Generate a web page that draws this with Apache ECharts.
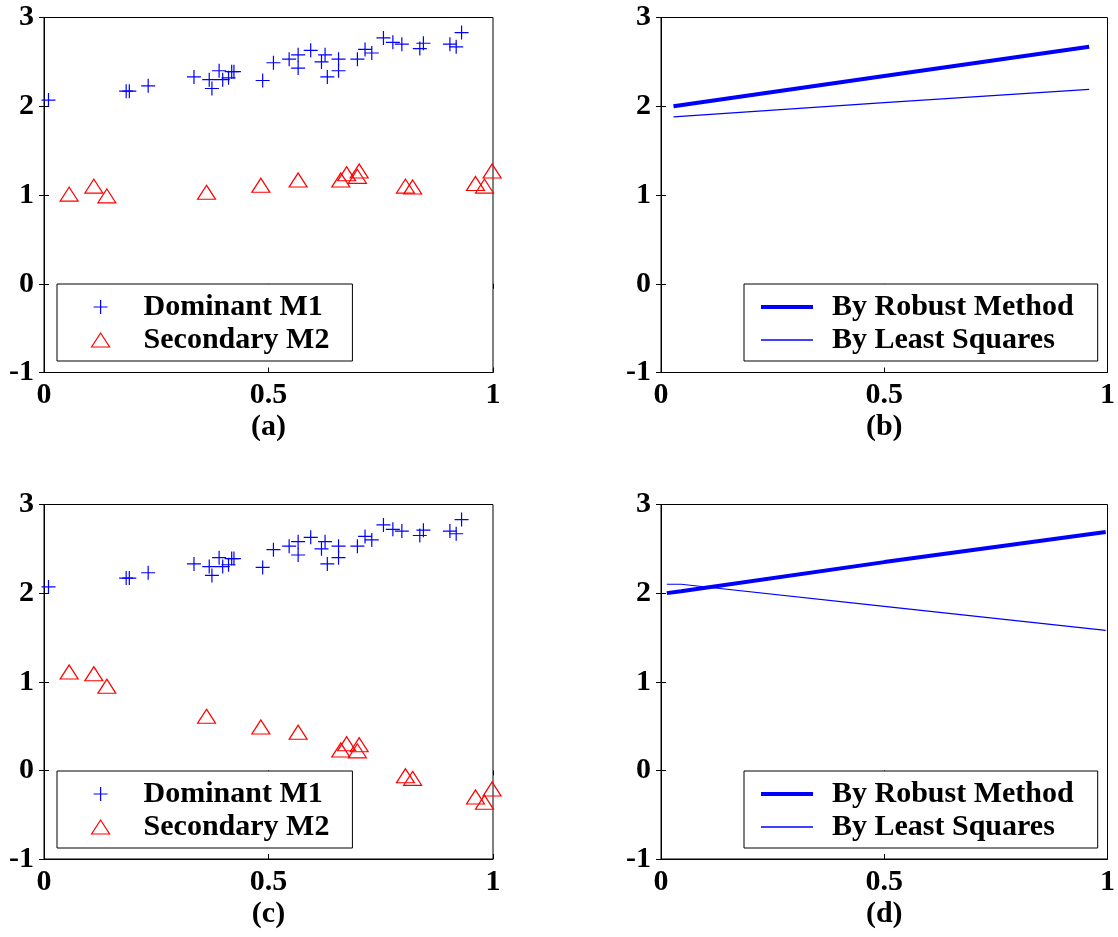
<!DOCTYPE html>
<html>
<head>
<meta charset="utf-8">
<script src="https://cdn.jsdelivr.net/npm/echarts@6/dist/echarts.min.js"></script>
<style>
  html, body { margin: 0; padding: 0; background: #fff; }
  #chart { width: 1118px; height: 937px; }
</style>
</head>
<body>
<div id="chart"></div>
<script>
// dominant component M1 (same points in (a) and (c))
const m1X = [0.010, 0.183, 0.190, 0.232, 0.334, 0.368, 0.374, 0.390, 0.398, 0.411, 0.418, 0.423,
  0.487, 0.511, 0.546, 0.566, 0.566, 0.594, 0.618, 0.626, 0.631, 0.656, 0.656, 0.698, 0.715,
  0.730, 0.756, 0.777, 0.797, 0.837, 0.845, 0.904, 0.918, 0.930]
const m1Y = [2.07, 2.17, 2.17, 2.23, 2.33, 2.30, 2.20, 2.40, 2.30, 2.32, 2.39, 2.39,
  2.29, 2.49, 2.53, 2.58, 2.43, 2.63, 2.50, 2.58, 2.33, 2.53, 2.40, 2.53, 2.64,
  2.60, 2.77, 2.72, 2.70, 2.65, 2.71, 2.70, 2.67, 2.83]

// secondary component M2
const m2X = [0.056, 0.111, 0.140, 0.362, 0.483, 0.566, 0.661, 0.674, 0.698, 0.702, 0.805, 0.821, 0.961, 0.981, 0.998]
const m2YA = [1.01, 1.10, 0.99, 1.03, 1.11, 1.17, 1.17, 1.24, 1.21, 1.27, 1.10, 1.09, 1.13, 1.10, 1.27]
const m2YC = [1.11, 1.09, 0.95, 0.61, 0.49, 0.43, 0.23, 0.30, 0.22, 0.29, -0.06, -0.09, -0.30, -0.36, -0.21]

// fitted lines
const fitXB = [0.028, 0.5, 0.959]
const robustB = [2.00, 2.34, 2.67]
const lsqB = [1.88, 2.04, 2.19]
const fitXD = [0.013, 0.045, 0.5, 0.996]
const robustD = [2.00, 2.02, 2.35, 2.69]
const lsqD = [2.10, 2.10, 1.85, 1.58]

const captions = ['(a)', '(b)', '(c)', '(d)']
const xTicks = { min: 0, max: 1, interval: 0.5 }
const yTicks = { min: -1, max: 3, interval: 1 }

const FONT = "'Liberation Serif', 'Times New Roman', serif"
const txt = { fontFamily: FONT, fontWeight: 'bold', fontSize: 30, color: '#000' }
const PLUS = 'path://M0,7H14M7,0V14'
// legend samples for the two fitted lines (thick / thin bar)
const THICK_ICON = 'path://M0,0H52V4H0Z'
const THIN_ICON = 'path://M0,0H52V1.3H0Z'

function pairs(xs, ys) {
  return xs.map((x, i) => [x, ys[i]])
}

var chart = echarts.init(document.getElementById('chart'))

const grids = [
  { left: 44, top: 17.5, width: 449, height: 355 },
  { left: 661, top: 17.5, width: 449, height: 355 },
  { left: 44, top: 504.5, width: 449, height: 354.5 },
  { left: 661, top: 504.5, width: 449, height: 354.5 }
].map(g => Object.assign({ show: true, borderColor: '#000', borderWidth: 1, backgroundColor: '#fff' }, g))

var xAxis = []
var yAxis = []
for (let i = 0; i < 4; i++) {
  xAxis.push({
    gridIndex: i, type: 'value', ...xTicks,
    name: captions[i], nameLocation: 'middle', nameGap: 40, nameTextStyle: txt,
    axisLine: { onZero: false, lineStyle: { color: '#000', width: 1 } },
    axisTick: { inside: true, length: 5, lineStyle: { color: '#000' } },
    axisLabel: Object.assign({ margin: 8 }, txt),
    splitLine: { show: false }
  })
  yAxis.push({
    gridIndex: i, type: 'value', ...yTicks,
    axisLine: { onZero: false, lineStyle: { color: '#000', width: 1 } },
    axisTick: { inside: true, length: 5, lineStyle: { color: '#000' } },
    axisLabel: Object.assign({ margin: 10 }, txt),
    splitLine: { show: false }
  })
}
// tick marks on the top and right edges of each box
for (let i = 0; i < 4; i++) {
  xAxis.push({
    gridIndex: i, type: 'value', position: 'top', ...xTicks,
    axisLine: { show: false }, axisLabel: { show: false }, splitLine: { show: false },
    axisTick: { inside: true, length: 5, lineStyle: { color: '#000' } }
  })
  yAxis.push({
    gridIndex: i, type: 'value', position: 'right', ...yTicks,
    axisLine: { show: false }, axisLabel: { show: false }, splitLine: { show: false },
    axisTick: { inside: true, length: 5, lineStyle: { color: '#000' } }
  })
}

function plusSeries(i) {
  return {
    name: 'Dominant M1', type: 'scatter', xAxisIndex: i, yAxisIndex: i,
    symbol: PLUS, symbolSize: 14,
    itemStyle: { color: '#0000ff', borderColor: '#0000ff', borderWidth: 1.2, opacity: 1 },
    data: pairs(m1X, m1Y)
  }
}
function triSeries(i, ys) {
  return {
    name: 'Secondary M2', type: 'scatter', xAxisIndex: i, yAxisIndex: i,
    symbol: 'triangle', symbolSize: [18, 14],
    itemStyle: { color: 'rgba(0,0,0,0)', borderColor: '#ff0000', borderWidth: 1.2, opacity: 1 },
    data: pairs(m2X, ys)
  }
}
function fitSeries(i, name, xs, ys, w) {
  return {
    name, type: 'line', xAxisIndex: i, yAxisIndex: i,
    showSymbol: false, symbol: 'none',
    lineStyle: { color: '#0000ff', width: w },
    itemStyle: { color: '#0000ff' },
    data: pairs(xs, ys)
  }
}

function markLegend(top, left) {
  return {
    left, top, orient: 'vertical', selectedMode: false,
    data: ['Dominant M1', 'Secondary M2'],
    backgroundColor: '#fff', borderColor: '#000', borderWidth: 1,
    padding: [8, 23, 6, 34], itemGap: 3,
    itemWidth: 18, itemHeight: 14,
    itemStyle: { borderWidth: 1.2 },
    textStyle: Object.assign({ padding: [0, 0, 0, 29] }, txt)
  }
}
function fitLegend(top, left) {
  return {
    left, top, orient: 'vertical', selectedMode: false,
    data: [
      { name: 'By Robust Method', icon: THICK_ICON },
      { name: 'By Least Squares', icon: THIN_ICON }
    ],
    symbolKeepAspect: true,
    backgroundColor: '#fff', borderColor: '#000', borderWidth: 1,
    padding: [8, 24, 6, 17], itemGap: 3,
    itemWidth: 52, itemHeight: 14,
    itemStyle: { color: '#0000ff', borderWidth: 0 },
    textStyle: Object.assign({ padding: [0, 0, 0, 14] }, txt)
  }
}

var option = {
  animation: false,
  backgroundColor: '#fff',
  grid: grids,
  xAxis,
  yAxis,
  legend: [markLegend(284, 57), fitLegend(284, 744), markLegend(771, 57), fitLegend(771, 744)],
  series: [
    plusSeries(0),
    triSeries(0, m2YA),
    fitSeries(1, 'By Robust Method', fitXB, robustB, 4),
    fitSeries(1, 'By Least Squares', fitXB, lsqB, 1.2),
    plusSeries(2),
    triSeries(2, m2YC),
    fitSeries(3, 'By Robust Method', fitXD, robustD, 4),
    fitSeries(3, 'By Least Squares', fitXD, lsqD, 1.2)
  ]
}
chart.setOption(option)
</script>
</body>
</html>
